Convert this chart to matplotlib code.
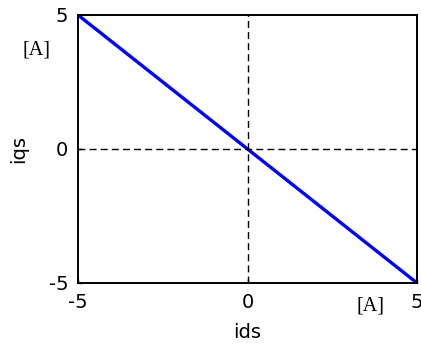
import matplotlib
matplotlib.use('Agg')
import matplotlib.pyplot as plt

plt.rcParams['axes.unicode_minus'] = False

# current components
ids = [-5, 0, 5]
iqs = [5, 0, -5]
x_ticks = [-5, 0, 5]
y_ticks = [-5, 0, 5]

fig = plt.figure(figsize=(4.21, 3.49), dpi=100)
ax = fig.add_axes([78 / 421, 66 / 349, 339 / 421, 268 / 349])

ax.plot(ids, iqs, color='#0000ff', linewidth=2.4)
ax.axhline(0, color='black', linewidth=1.0, linestyle=(0, (5, 3)))
ax.axvline(0, color='black', linewidth=1.0, linestyle=(0, (5, 3)))

ax.set_xlim(-5, 5)
ax.set_ylim(-5, 5)
ax.set_xticks(x_ticks)
ax.set_yticks(y_ticks)
ax.tick_params(direction='in', length=3, width=1, labelsize=14, pad=7,
               top=False, right=False)
for s in ax.spines.values():
    s.set_linewidth(1.4)

ax.set_xlabel('ids', fontsize=14, labelpad=8)
ax.set_ylabel('iqs', fontsize=14, labelpad=15)

fig.text(36.5 / 421, 1 - 50.5 / 349, '[A]', family='Liberation Serif',
         fontsize=14.5, ha='center', va='center')
fig.text(370 / 421, 1 - 306.5 / 349, '[A]', family='Liberation Serif',
         fontsize=14.5, ha='center', va='center')

fig.savefig('out.png', dpi=100)
